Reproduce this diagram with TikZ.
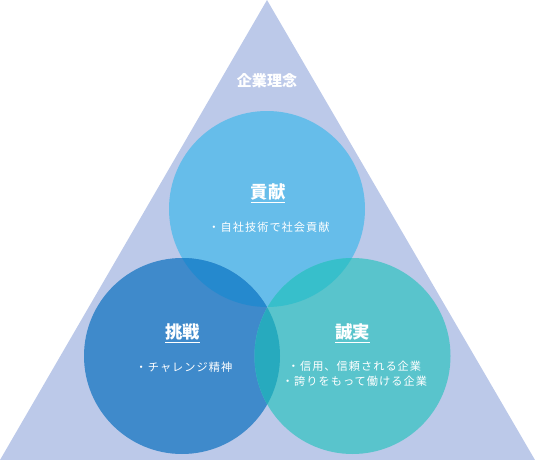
\documentclass[tikz,border=0pt]{standalone}
\usepackage{fontspec}
\newfontfamily\cjk{Noto Sans CJK JP}
\newfontfamily\cjkbody[LetterSpace=9]{Noto Sans CJK JP}

\definecolor{cTri}{RGB}{188,201,233}
\definecolor{cTop}{RGB}{102,189,234}
\definecolor{cLeft}{RGB}{63,138,203}
\definecolor{cRight}{RGB}{89,196,204}
\definecolor{cTopLeft}{RGB}{37,137,206}
\definecolor{cTopRight}{RGB}{55,191,203}
\definecolor{cLeftRight}{RGB}{39,170,190}

\begin{document}
\begin{tikzpicture}[x=0.75pt,y=0.75pt,yscale=-1,xscale=1,
    headtext/.style={text=white,inner sep=0.75pt,font=\cjk\bfseries\fontsize{13}{15}\selectfont},
    bodytext/.style={text=white,inner sep=0.75pt,align=center,font=\cjkbody\fontsize{8.4}{11.3}\selectfont}]
        \useasboundingbox (0,0) rectangle (535,460);

        %Shape: Triangle
        \fill [cTri] (267,0) -- (535,460) -- (0,460) -- cycle ;

        %Shape: Circle centres
        \coordinate (kouken) at (267,209);
        \coordinate (chousen) at (182,356);
        \coordinate (seijitsu) at (352.5,356);

        %Shape: Circles
        \fill [cTop] (kouken) circle (98) ;
        \fill [cLeft] (chousen) circle (98) ;
        \fill [cRight] (seijitsu) circle (98) ;

        %Shape: Overlaps
        \begin{scope}
        \clip (kouken) circle (98) ;
        \fill [cTopLeft] (chousen) circle (98) ;
        \fill [cTopRight] (seijitsu) circle (98) ;
        \end{scope}
        \begin{scope}
        \clip (chousen) circle (98) ;
        \fill [cLeftRight] (seijitsu) circle (98) ;
        \end{scope}

        % Text Node
        \node (rinen) at (267,81) [text=white,inner sep=0.75pt,font=\cjk\bfseries\fontsize{11.3}{13}\selectfont] {企業理念};
        % Text Node
        \node (koukenhead) at (268,193) [headtext] {\underline{貢献}};
        % Text Node
        \node (koukenbody) at (269,227) [bodytext] {・自社技術で社会貢献};
        % Text Node
        \node (chousenhead) at (182.5,333) [headtext] {\underline{挑戦}};
        % Text Node
        \node (chousenbody) at (184,367) [bodytext] {・チャレンジ精神};
        % Text Node
        \node (seijitsuhead) at (352.5,333) [headtext] {\underline{誠実}};
        % Text Node
        \node (seijitsubody) at (354.5,374) [bodytext] {・信用、信頼される企業\\・誇りをもって働ける企業};

\end{tikzpicture}
\end{document}
